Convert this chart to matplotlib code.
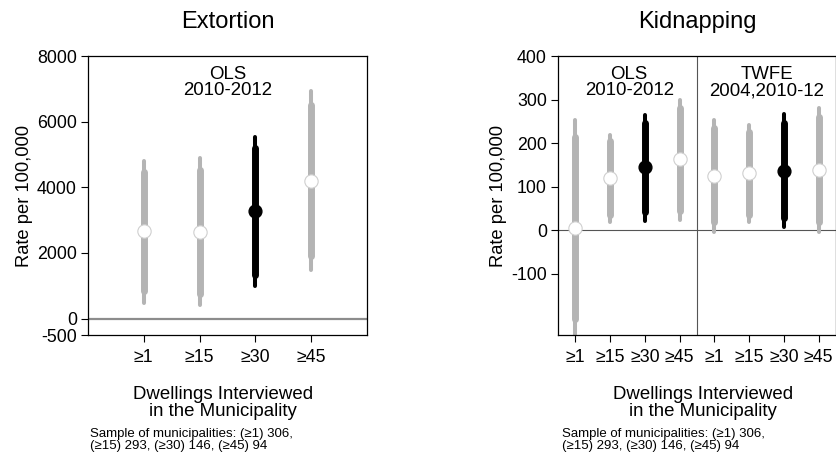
import numpy as np
import matplotlib.pyplot as plt

plt.rcParams['font.family'] = ['Liberation Sans', 'DejaVu Sans']
plt.rcParams['axes.unicode_minus'] = False

# Tick labels (dwellings interviewed per municipality)
groups = ["≥1", "≥15", "≥30", "≥45"]

# Extortion, OLS 2010-2012
ext_est = [2655, 2635, 3263, 4206]
ext_lo95 = [474, 423, 981, 1488]
ext_hi95 = [4815, 4886, 5545, 6945]
ext_lo90 = [829, 758, 1336, 1914]
ext_hi90 = [4480, 4531, 5190, 6509]

# Kidnapping, OLS 2010-2012 followed by TWFE 2004,2010-12
kid_est = [4, 119, 144, 163, 125, 131, 136, 138]
kid_lo95 = [-245, 18, 20, 24, -5, 18, 6, -5]
kid_hi95 = [253, 219, 265, 299, 253, 242, 267, 280]
kid_lo90 = [-204, 34, 41, 45, 18, 35, 28, 18]
kid_hi90 = [213, 204, 246, 280, 234, 226, 247, 259]

note = "Sample of municipalities: (≥1) 306,\n(≥15) 293, (≥30) 146, (≥45) 94"

GRAY = "#b4b4b4"


def draw_estimates(ax, est, lo95, hi95, lo90, hi90):
    x = np.arange(1, len(est) + 1)
    for i in range(len(est)):
        # the >=30 sample is drawn in black
        black = groups[i % 4] == "≥30"
        col = "black" if black else GRAY
        ax.plot([x[i], x[i]], [lo95[i], hi95[i]], color=col, lw=2.9,
                solid_capstyle="round", zorder=2)
        ax.plot([x[i], x[i]], [lo90[i], hi90[i]], color=col, lw=5,
                solid_capstyle="round", zorder=3)
        if black:
            ax.plot(x[i], est[i], "o", ms=9.2, color="black", zorder=4)
        else:
            ax.plot(x[i], est[i], "o", ms=9.6, mfc="white", mec="#cfcfcf",
                    mew=0.8, zorder=4)


def style_axes(ax):
    for s in ax.spines.values():
        s.set_linewidth(0.9)
    ax.tick_params(direction="out", length=5, width=0.8, labelsize=12.8,
                   pad=3)
    ax.tick_params(axis="x", pad=5)
    ax.set_ylabel("Rate per 100,000", fontsize=13.2, labelpad=3)


fig = plt.figure(figsize=(8.37, 4.61), dpi=100)

# Extortion panel
ax1 = fig.add_axes([88 / 837, 126 / 461, 279 / 837, 279 / 461])
ax1.axhline(0, color="#8c8c8c", lw=1.6, zorder=1)
draw_estimates(ax1, ext_est, ext_lo95, ext_hi95, ext_lo90, ext_hi90)
ax1.set_xlim(0, 5)
ax1.set_ylim(-500, 8000)
ax1.set_yticks([8000, 6000, 4000, 2000, 0, -500])
ax1.set_xticks(range(1, 5))
ax1.set_xticklabels(groups)
ax1.text(2.5, 0.965, "OLS\n2010-2012", transform=ax1.get_xaxis_transform(),
         ha="center", va="top", fontsize=13.4, linespacing=0.95)
style_axes(ax1)
ax1.set_title("Extortion", fontsize=17, pad=20)

# Kidnapping panel
ax2 = fig.add_axes([558 / 837, 126 / 461, 278 / 837, 279 / 461])
ax2.axhline(0, color="#555555", lw=0.8, zorder=1)
ax2.axvline(4.5, color="#555555", lw=0.8, zorder=1)
draw_estimates(ax2, kid_est, kid_lo95, kid_hi95, kid_lo90, kid_hi90)
ax2.set_xlim(0.5, 8.5)
ax2.set_ylim(-241, 400)
ax2.set_yticks([400, 300, 200, 100, 0, -100])
ax2.set_xticks(range(1, 9))
ax2.set_xticklabels(groups * 2)
ax2.text(2.55, 0.965, "OLS\n2010-2012", transform=ax2.get_xaxis_transform(),
         ha="center", va="top", fontsize=13.4, linespacing=0.95)
ax2.text(6.5, 0.965, "TWFE\n2004,2010-12", transform=ax2.get_xaxis_transform(),
         ha="center", va="top", fontsize=13.4, linespacing=0.95)
style_axes(ax2)
ax2.set_title("Kidnapping", fontsize=17, pad=20)

# Axis titles and sample notes under each panel
for xc, xn in [(223, 90), (703, 562)]:
    fig.text(xc / 837, 1 - 403 / 461, "Dwellings Interviewed\nin the Municipality",
             ha="center", va="center", fontsize=13.4, linespacing=1.05)
    fig.text(xn / 837, 1 - 440 / 461, note, ha="left", va="center",
             fontsize=9.5, linespacing=0.9)

plt.savefig("out.png", dpi=100)
